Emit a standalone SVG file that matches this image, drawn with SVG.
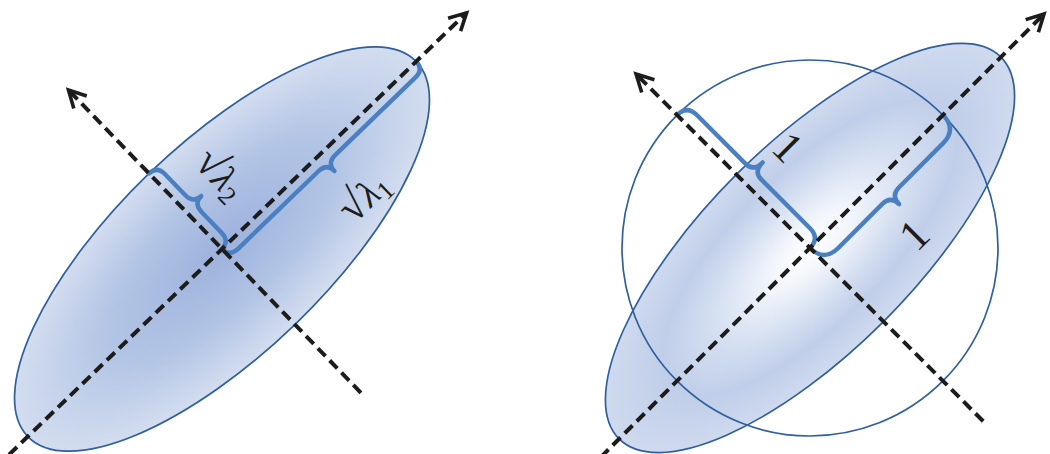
<svg xmlns="http://www.w3.org/2000/svg" width="1050" height="454" viewBox="0 0 1050 454">
  <defs>
    <radialGradient id="gL" cx="50%" cy="50%" r="50%">
      <stop offset="0" stop-color="#9db1dc"/>
      <stop offset="0.55" stop-color="#b3c5e5"/>
      <stop offset="1" stop-color="#d3ddef"/>
    </radialGradient>
    <radialGradient id="gR" cx="50%" cy="50%" r="50%">
      <stop offset="0" stop-color="#ffffff"/>
      <stop offset="0.2" stop-color="#f1f5fb"/>
      <stop offset="0.5" stop-color="#d2ddf0"/>
      <stop offset="0.72" stop-color="#c0cee9"/>
      <stop offset="1" stop-color="#cfdaee"/>
    </radialGradient>
    <marker id="arr" viewBox="-20 -12 24 24" markerWidth="24" markerHeight="24" refX="0" refY="0" orient="auto" markerUnits="userSpaceOnUse">
      <path d="M-17,-9 L0,0 L-17,9" fill="none" stroke="#1c1c1c" stroke-width="3.6" stroke-linejoin="miter"/>
    </marker>
  </defs>
  <style>
    .outline { stroke: #2f5f9e; stroke-width: 1.7; }
    .axis { fill: none; stroke: #1c1c1c; stroke-width: 4; stroke-dasharray: 11 6; marker-end: url(#arr); }
    .brace { fill: none; stroke: #4a7fc2; stroke-width: 4.4; stroke-linecap: round; stroke-linejoin: round; }
    .lbl { font-family: "Liberation Serif", "DejaVu Serif", serif; font-size: 38px; fill: #1c1c1c; }
    .one { font-family: "Liberation Serif", "DejaVu Serif", serif; font-size: 44px; fill: #1c1c1c; }
  </style>

  <!-- Left figure -->
  <g id="left-figure" transform="translate(222,249) rotate(-44)">
    <g id="left-ellipse">
      <ellipse cx="0" cy="0" rx="270" ry="105" fill="url(#gL)" class="outline"/>
    </g>
    <g id="left-braces">
      <path class="brace" d="M0,0 Q0,11 12,11 L123,11 Q135,11 135,22 Q135,11 147,11 L258,11 Q270,11 270,0"/>
      <path class="brace" d="M0,0 Q11,0 11,-12 L11,-40.5 Q11,-52.5 22,-52.5 Q11,-52.5 11,-64.5 L11,-93 Q11,-105 0,-105"/>
    </g>
    <g id="left-axes">
      <line class="axis" x1="-330" y1="0" x2="340" y2="0"/>
      <line class="axis" x1="0" y1="200" x2="0" y2="-221"/>
    </g>
    <g id="left-labels">
      <text class="lbl" transform="translate(38,-55) rotate(90)" text-anchor="middle"><tspan font-size="44">√</tspan><tspan font-style="italic">λ</tspan><tspan font-size="26" dy="6">2</tspan></text>
      <text class="lbl" transform="translate(138,74)" text-anchor="middle"><tspan font-size="44">√</tspan><tspan font-style="italic">λ</tspan><tspan font-size="26" dy="6">1</tspan></text>
    </g>
  </g>

  <!-- Right figure -->
  <g id="right-figure">
    <g id="right-ellipse" transform="translate(810,248) rotate(-45)">
      <ellipse cx="0" cy="0" rx="270" ry="104" fill="url(#gR)" class="outline"/>
    </g>
    <g id="right-circle">
      <circle cx="810" cy="248" r="188" fill="none" class="outline"/>
    </g>
    <g transform="translate(810,248) rotate(-45)">
      <g id="right-braces">
        <path class="brace" d="M0,0 Q0,20 20,20 L82,20 Q94,20 94,32 Q94,20 106,20 L168,20 Q188,20 188,0"/>
        <path class="brace" d="M0,0 Q14,0 14,-14 L14,-83 Q14,-94 27,-94 Q14,-94 14,-105 L14,-174 Q14,-188 0,-188"/>
      </g>
      <g id="right-axes">
        <line class="axis" x1="-330" y1="0" x2="331" y2="0"/>
        <line class="axis" x1="0" y1="245" x2="0" y2="-246"/>
      </g>
      <g id="right-labels">
        <text class="one" transform="translate(41,-87) rotate(90)" text-anchor="middle">1</text>
        <text class="one" transform="translate(83,79)" text-anchor="middle">1</text>
      </g>
    </g>
  </g>
</svg>
